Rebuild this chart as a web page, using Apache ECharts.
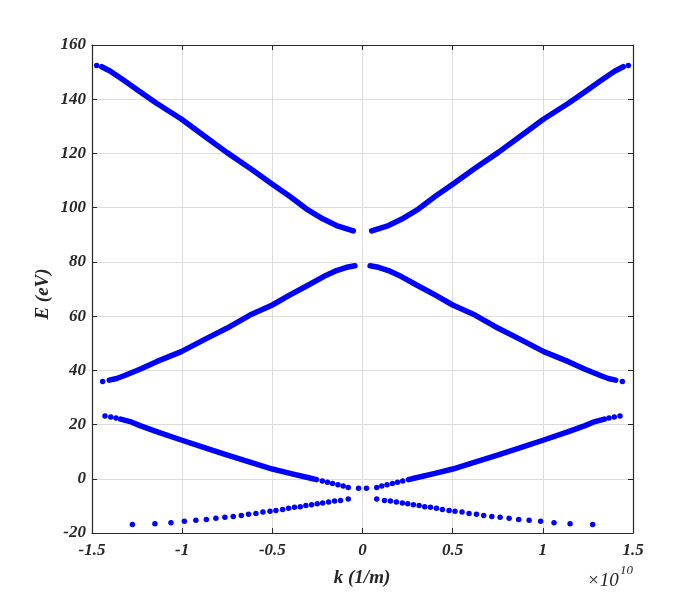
<!DOCTYPE html>
<html><head><meta charset="utf-8">
<script src="https://cdn.jsdelivr.net/npm/echarts@6/dist/echarts.min.js"></script>
<style>html,body{margin:0;padding:0;background:#fff}#c{width:700px;height:600px}</style>
</head><body><div id="c"></div>
<script>
// k in units of 1e10 1/m (left branch, k<0); right branch is the mirror image
// Band 1 (lowest, sparse dots)
var band1K = [-1.276,-1.151,-1.062,-0.988,-0.924,-0.866,-0.813,-0.763,-0.717,-0.672,-0.632,-0.591,-0.552,-0.513,-0.480,-0.443,-0.410,-0.377,-0.345,-0.314,-0.282,-0.251,-0.221,-0.188,-0.155,-0.122,-0.079];
var band1E = [-16.9,-16.6,-16.2,-15.7,-15.3,-15.0,-14.6,-14.2,-13.9,-13.5,-13.1,-12.8,-12.3,-12.0,-11.7,-11.3,-10.9,-10.5,-10.3,-9.9,-9.6,-9.2,-8.9,-8.6,-8.2,-8.0,-7.5];
// Band 2: dense part and discrete tail dots
var band2K = [-1.341,-1.289,-1.234,-1.142,-1.005,-0.864,-0.753,-0.624,-0.500,-0.402,-0.292,-0.255];
var band2E = [22.0,21.1,19.6,17.4,14.3,11.2,8.8,6.1,3.6,2.0,0.3,-0.3];
var band2DotK = [-1.428,-1.396,-1.367,-0.223,-0.194,-0.166,-0.136,-0.107,-0.079,-0.022];
var band2DotE = [23.2,22.8,22.4,-0.8,-1.3,-1.7,-2.2,-2.7,-3.2,-3.5];
// Band 3
var band3K = [-1.404,-1.363,-1.326,-1.234,-1.142,-1.005,-0.864,-0.753,-0.624,-0.500,-0.402,-0.310,-0.218,-0.144,-0.088,-0.042];
var band3E = [36.4,37.0,37.9,40.4,43.2,46.9,51.8,55.5,60.4,64.1,67.8,71.1,74.5,76.8,78.0,78.6];
var band3DotK = [-1.441];
var band3DotE = [35.9];
// Band 4
var band4K = [-1.446,-1.400,-1.326,-1.234,-1.142,-1.005,-0.864,-0.753,-0.624,-0.500,-0.402,-0.310,-0.218,-0.144,-0.051];
var band4E = [152.0,150.4,147.1,142.8,138.5,132.7,125.8,120.4,114.5,108.6,104.1,99.5,95.8,93.4,91.4];
var band4DotK = [-1.474];
var band4DotE = [152.4];
// axis ticks
var xTicks = [-1.5,-1,-0.5,0,0.5,1,1.5];
var yTicks = [-20,0,20,40,60,80,100,120,140,160];

function pts(K, E, sign){ return K.map(function(k,i){ return [sign*k, E[i]]; }); }

var blue = '#0000ff';
var series = [];
function lineBand(K, E){
  [1,-1].forEach(function(s){
    series.push({type:'line', data: pts(K,E,s), showSymbol:false, symbol:'none',
      lineStyle:{color:blue, width:5.5, cap:'round', join:'round'}, itemStyle:{color:blue, opacity:1},
      smooth:false, silent:true, z:3});
  });
}
function dotBand(K, E){
  series.push({type:'scatter', data: pts(K,E,1).concat(pts(K,E,-1)), symbol:'circle', symbolSize:5.5,
    itemStyle:{color:blue, opacity:1}, silent:true, z:4});
}
lineBand(band2K, band2E); dotBand(band2DotK, band2DotE);
lineBand(band3K, band3E); dotBand(band3DotK, band3DotE);
lineBand(band4K, band4E); dotBand(band4DotK, band4DotE);
dotBand(band1K, band1E);

var font = '"Liberation Serif","Times New Roman",serif';
var axLine = {show:true, onZero:false, lineStyle:{color:'#262626', width:1.2}};
var tick = {show:true, inside:true, length:5, lineStyle:{color:'#262626', width:1}};
var lab = {color:'#262626', fontFamily:font, fontSize:17, fontWeight:'bold', fontStyle:'italic'};

var chart = echarts.init(document.getElementById('c'), null, {renderer:'canvas'});
chart.setOption({
  animation:false,
  backgroundColor:'#fff',
  grid:{left:92, right:67, top:45, bottom:67, containLabel:false},
  xAxis:[
    {type:'value', min:xTicks[0], max:xTicks[xTicks.length-1], interval:0.5, position:'bottom',
     axisLine:axLine, axisTick:tick, splitLine:{show:true, lineStyle:{color:'#dcdcdc', width:1}},
     axisLabel:Object.assign({margin:9}, lab)},
    {type:'value', min:xTicks[0], max:xTicks[xTicks.length-1], interval:0.5, position:'top',
     axisLine:axLine, axisTick:tick, splitLine:{show:false}, axisLabel:{show:false}}
  ],
  yAxis:[
    {type:'value', min:yTicks[0], max:yTicks[yTicks.length-1], interval:20, position:'left',
     axisLine:axLine, axisTick:tick, splitLine:{show:true, lineStyle:{color:'#dcdcdc', width:1}},
     axisLabel:Object.assign({margin:6}, lab)},
    {type:'value', min:yTicks[0], max:yTicks[yTicks.length-1], interval:20, position:'right',
     axisLine:axLine, axisTick:tick, splitLine:{show:false}, axisLabel:{show:false}}
  ],
  series: series,
  graphic:[
    {type:'text', position:[362,578], style:{text:'k (1/m)', fontFamily:font, fontSize:19, fontWeight:'bold', fontStyle:'italic', fill:'#262626', textAlign:'center', textVerticalAlign:'middle'}},
    {type:'text', position:[43,294], rotation:Math.PI/2, style:{text:'E (eV)', fontFamily:font, fontSize:19, fontWeight:'bold', fontStyle:'italic', fill:'#262626', textAlign:'center', textVerticalAlign:'middle'}},
    {type:'text', position:[587,581], style:{text:'\u00d710', fontFamily:font, fontSize:19, fontStyle:'italic', fill:'#262626', textAlign:'left', textVerticalAlign:'middle'}},
    {type:'text', position:[620,571], style:{text:'10', fontFamily:font, fontSize:13, fontStyle:'italic', fill:'#262626', textAlign:'left', textVerticalAlign:'middle'}}
  ]
});
</script></body></html>
